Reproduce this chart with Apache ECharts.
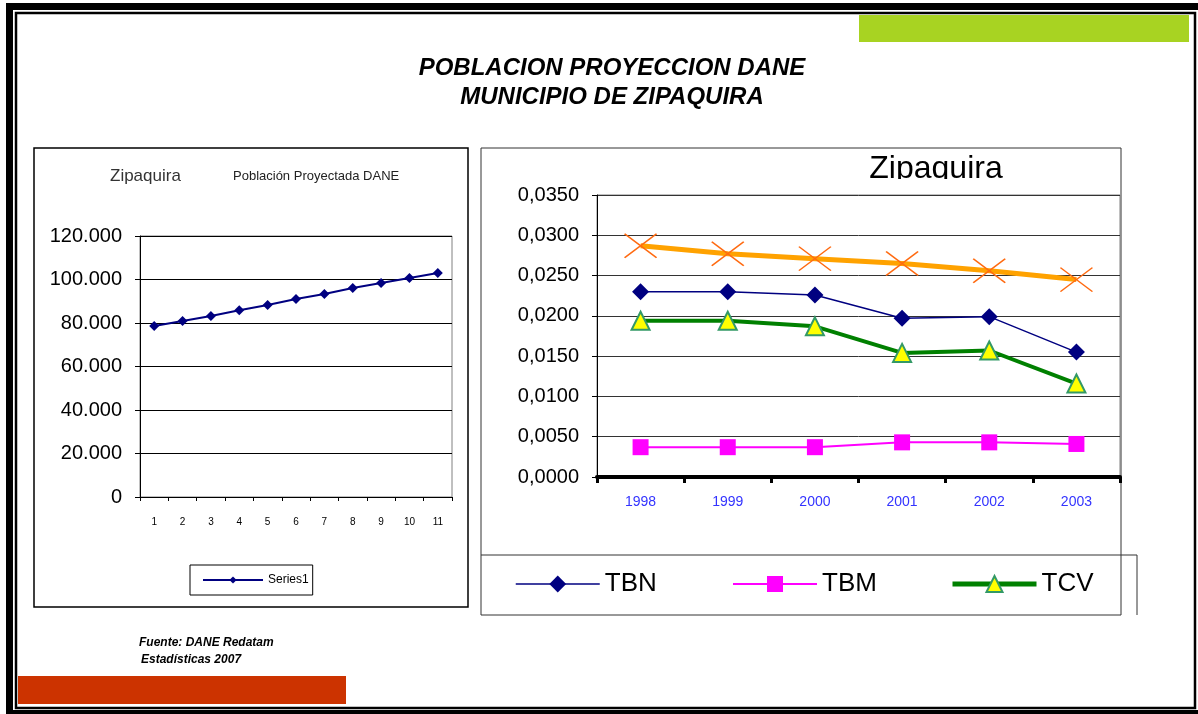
<!DOCTYPE html>
<html style="height: 100%">
   <head>
       <meta charset="utf-8">
       <title>Poblacion Zipaquira</title>
   </head>
   <body style="height: 100%; margin: 0; background: #fff">
       <div id="container" style="width: 1198px; height: 714px"></div>
       <script type="text/javascript" src="https://cdn.jsdelivr.net/npm/echarts@6/dist/echarts.min.js"></script>
       <script type="text/javascript">
// left chart: poblacion proyectada
var popCats = ['1','2','3','4','5','6','7','8','9','10','11'];
var popValues = [78600, 80900, 83200, 85900, 88300, 91000, 93300, 96100, 98400, 100700, 103000];

// right chart: tasas
var years = ['1998','1999','2000','2001','2002','2003'];
var tbn = [0.0230, 0.0230, 0.0226, 0.0197, 0.0199, 0.0155];
var tbm = [0.0037, 0.0037, 0.0037, 0.0043, 0.0043, 0.0041];
var tcv = [0.0194, 0.0194, 0.0187, 0.0154, 0.0157, 0.0116];
var tgr = [0.0287, 0.0277, 0.0271, 0.0265, 0.0256, 0.0245];

var dom = document.getElementById("container");
var myChart = echarts.init(dom, null, {renderer: 'canvas'});
var option = null;
var ff = 'Liberation Sans, Arial, sans-serif';

option = {
    backgroundColor: '#fff',
    animation: false,
    textStyle: {fontFamily: ff},
    graphic: [
        // page frame
        {type: 'rect', shape: {x: 6, y: 3, width: 1200, height: 7}, style: {fill: '#000'}},
        {type: 'rect', shape: {x: 6, y: 3, width: 7, height: 720}, style: {fill: '#000'}},
        {type: 'rect', shape: {x: 6, y: 710, width: 1200, height: 6}, style: {fill: '#000'}},
        {type: 'rect', shape: {x: 16, y: 13, width: 1179, height: 695}, style: {fill: 'none', stroke: '#000', lineWidth: 2.5}},
        // colour bars
        {type: 'rect', shape: {x: 859, y: 15, width: 330, height: 27}, style: {fill: '#a8d322'}},
        {type: 'rect', shape: {x: 18, y: 676, width: 328, height: 28}, style: {fill: '#cc3300'}},
        // main title
        {type: 'text', x: 612, y: 68, style: {text: 'POBLACION PROYECCION DANE', font: 'italic bold 24px ' + ff, fill: '#000', align: 'center', verticalAlign: 'middle'}},
        {type: 'text', x: 612, y: 97, style: {text: 'MUNICIPIO DE ZIPAQUIRA', font: 'italic bold 24px ' + ff, fill: '#000', align: 'center', verticalAlign: 'middle'}},
        // source
        {type: 'text', x: 139, y: 643, style: {text: 'Fuente: DANE Redatam', font: 'italic bold 12px ' + ff, fill: '#000', verticalAlign: 'middle'}},
        {type: 'text', x: 141, y: 660, style: {text: 'Estadísticas 2007', font: 'italic bold 12px ' + ff, fill: '#000', verticalAlign: 'middle'}},
        // left panel
        {type: 'rect', z: -1, shape: {x: 34, y: 148, width: 434, height: 459}, style: {fill: '#fff', stroke: '#000', lineWidth: 1.5}},
        {type: 'text', x: 110, y: 176, style: {text: 'Zipaquira', font: '17px ' + ff, fill: '#333', verticalAlign: 'middle'}},
        {type: 'text', x: 233, y: 176, style: {text: 'Población Proyectada DANE', font: '13px ' + ff, fill: '#222', verticalAlign: 'middle'}},
        // right panel
        {type: 'rect', z: -1, shape: {x: 481, y: 148, width: 640, height: 467}, style: {fill: '#fff', stroke: '#333', lineWidth: 1}},
        {type: 'line', shape: {x1: 481, y1: 555, x2: 1137, y2: 555}, style: {stroke: '#333', lineWidth: 1}},
        {type: 'line', shape: {x1: 1137, y1: 555, x2: 1137, y2: 615}, style: {stroke: '#333', lineWidth: 1}},
        {type: 'text', x: 936, y: 185, style: {text: 'Zipaquira', font: '32px ' + ff, fill: '#000', align: 'center', verticalAlign: 'bottom'}},
        {type: 'rect', z: 10, shape: {x: 860, y: 179, width: 150, height: 14}, style: {fill: '#fff'}}
    ],
    legend: [
        {
            data: ['Series1'], left: 190, top: 565, itemWidth: 60, itemHeight: 9,
            padding: [9, 4, 9, 12], borderColor: '#000', borderWidth: 1,
            textStyle: {fontSize: 12, color: '#000'}
        },
        {data: ['TBN'], left: 515, top: 571, padding: 0, itemWidth: 84, itemHeight: 21,
            lineStyle: {width: 1.5}, textStyle: {fontSize: 26, color: '#000'}},
        {data: ['TBM'], left: 732, top: 571, padding: 0, itemWidth: 84, itemHeight: 20,
            lineStyle: {width: 2}, textStyle: {fontSize: 26, color: '#000'}},
        {data: ['TCV'], left: 950, top: 571, padding: 0, itemWidth: 84, itemHeight: 20,
            lineStyle: {width: 5}, textStyle: {fontSize: 26, color: '#000'}}
    ],
    grid: [
        {left: 140, top: 236, width: 312, height: 261, show: true, borderColor: '#808080', borderWidth: 1, backgroundColor: '#fff'},
        {left: 597, top: 195, width: 523, height: 282, show: true, borderColor: '#808080', borderWidth: 1, backgroundColor: '#fff'}
    ],
    xAxis: [
        {
            gridIndex: 0, type: 'category', data: popCats, boundaryGap: true,
            axisLine: {lineStyle: {color: '#000', width: 1}},
            axisTick: {show: true, length: 4, lineStyle: {color: '#000'}},
            axisLabel: {fontSize: 10, color: '#000', margin: 20}
        },
        {
            gridIndex: 1, type: 'category', data: years, boundaryGap: true,
            axisLine: {lineStyle: {color: '#000', width: 4}},
            axisTick: {show: true, length: 6, lineStyle: {color: '#000', width: 3}},
            axisLabel: {fontSize: 14, color: '#3333ff', margin: 18}
        }
    ],
    yAxis: [
        {
            gridIndex: 0, type: 'value', min: 0, max: 120000, interval: 20000,
            axisLine: {show: true, lineStyle: {color: '#000'}},
            axisTick: {show: true, length: 5, lineStyle: {color: '#000'}},
            splitLine: {lineStyle: {color: '#000', width: 1}},
            axisLabel: {
                fontSize: 20, color: '#000', margin: 18,
                formatter: function (v) { return v === 0 ? '0' : (v / 1000) + '.000'; }
            }
        },
        {
            gridIndex: 1, type: 'value', min: 0, max: 0.035, interval: 0.005,
            axisLine: {show: true, lineStyle: {color: '#000'}},
            axisTick: {show: true, length: 5, lineStyle: {color: '#000'}},
            splitLine: {lineStyle: {color: '#333', width: 1}},
            axisLabel: {
                fontSize: 20, color: '#000', margin: 18,
                formatter: function (v) { return v.toFixed(4).replace('.', ','); }
            }
        }
    ],
    series: [
        {
            name: 'Series1', type: 'line', xAxisIndex: 0, yAxisIndex: 0, data: popValues,
            symbol: 'diamond', symbolSize: 10, color: '#000080',
            lineStyle: {color: '#000080', width: 2}
        },
        {
            name: 'TGR', type: 'line', xAxisIndex: 1, yAxisIndex: 1, data: tgr,
            symbol: 'path://M0 0L32 24M32 0L0 24', symbolSize: [32, 24],
            itemStyle: {color: 'transparent', borderColor: '#ff6a10', borderWidth: 1.5},
            lineStyle: {color: '#ffa200', width: 5}
        },
        {
            name: 'TBN', type: 'line', xAxisIndex: 1, yAxisIndex: 1, data: tbn,
            symbol: 'diamond', symbolSize: 17, color: '#000080',
            lineStyle: {color: '#000080', width: 1.5}
        },
        {
            name: 'TBM', type: 'line', xAxisIndex: 1, yAxisIndex: 1, data: tbm,
            symbol: 'rect', symbolSize: 16, color: '#ff00ff',
            lineStyle: {color: '#ff00ff', width: 2}
        },
        {
            name: 'TCV', type: 'line', xAxisIndex: 1, yAxisIndex: 1, data: tcv,
            symbol: 'triangle', symbolSize: 18,
            itemStyle: {color: '#ffff00', borderColor: '#339966', borderWidth: 2},
            lineStyle: {color: '#008000', width: 4}
        }
    ]
};
if (option && typeof option === "object") {
    myChart.setOption(option, true);
}
       </script>
   </body>
</html>
